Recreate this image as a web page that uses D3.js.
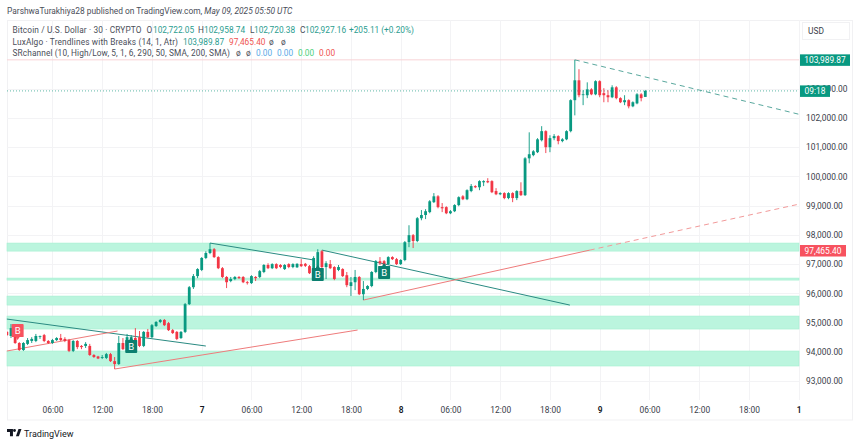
<!DOCTYPE html>
<html>
<head>
<meta charset="utf-8">
<title>BTCUSD 30m</title>
<script src="https://cdn.jsdelivr.net/npm/d3@7/dist/d3.min.js"></script>
<style>
  html, body { margin: 0; padding: 0; background: #fff; }
  svg { display: block; }
  text { font-family: Roboto, 'Open Sans', sans-serif; }
</style>
</head>
<body>
<svg id="chart" width="860" height="445"></svg>
<script>
// candles as [open, high, low, close], bar 1 is the first half hour of May 6
const candlesMay6 = [
  [94680,94710,94540,94570],[94540,94950,94470,94810],[94780,94850,94270,94300],[94300,94330,94030,94060],
  [94060,94330,94030,94300],[94270,94470,94230,94400],[94370,94500,94300,94440],[94370,94610,94330,94540],
  [94520,94555,94440,94540],[94570,94610,94330,94370],[94370,94400,94270,94300],[94300,94440,94270,94400],
  [94400,94500,94370,94470],[94470,94610,94370,94400],[94440,94500,94330,94370],[94400,94440,93990,94030],
  [94030,94400,93990,94370],[94370,94400,94090,94160],[94200,94230,94090,94160],[94200,94330,94130,94270],
  [94200,94270,93860,93890],[93890,93920,93790,93820],[93840,93860,93750,93770],[93790,93890,93750,93820],
  [93790,93960,93750,93920],[93920,93960,93650,93680],[93680,93820,93410,93580],[93580,94540,93550,94300],
  [94300,94470,94060,94090],[94200,94610,94160,94500],[94440,94570,94370,94500],[94470,94810,94230,94270],
  [94500,94710,94160,94200],[94200,94710,94160,94680],[94680,94780,94470,94500],[94500,94950,94470,94910],
  [94880,95050,94850,95020],[95020,95120,94980,95090],[95090,95120,94880,94910],[94980,95020,94710,94740],
  [94740,94780,94610,94640],[94680,94710,94400,94440],[94470,94710,94440,94680],[94680,95670,94640,95630],
  [95630,96250,95600,96210],[96210,96660,96150,96590],[96590,96860,96520,96830]
];
const candlesMay7 = [
  [96800,97240,96760,97210],[97210,97440,97170,97380],[97380,97720,97340,97510],[97510,97550,97210,97240],
  [97240,97270,96830,96860],[96860,96900,96520,96560],[96560,96590,96180,96380],[96420,96560,96380,96490],
  [96490,96590,96450,96560],[96560,96590,96490,96520],[96560,96590,96350,96380],[96380,96420,96300,96350],
  [96350,96620,96320,96590],[96560,96590,96420,96520],[96560,96800,96520,96760],[96730,97000,96690,96970],
  [96970,97030,96830,96860],[96860,97030,96830,97000],[97000,97030,96830,96860],[96970,97000,96860,96900],
  [96830,97000,96800,96970],[97000,97030,96860,96900],[96900,97030,96860,97000],[96890,97030,96870,97010],
  [97000,97170,96900,96930],[97010,97040,96900,96940],[96930,96970,96660,96690],[96730,97270,96690,97210],
  [96730,97510,96690,97410],[97440,97480,96860,96900],[96900,97100,96490,97030],[97000,97140,96830,96860],
  [96900,96930,96450,96490],[96800,96970,96760,96900],[96830,96860,96560,96590],[96620,96730,96210,96280],
  [96250,96560,95910,96380],[96380,96800,96110,96560],[96560,96590,95940,95970],[95970,96420,95770,96150],
  [96150,96280,96110,96250],[96250,96760,96210,96730],[96730,97140,96690,97100],[97100,97240,96970,97030],
  [97100,97140,96930,96970],[97000,97270,96970,97240],[97240,97270,97140,97170],[97170,97210,96970,97000]
];
const candlesMay8 = [
  [97000,97170,96970,97140],[97140,97790,97100,97750],[97750,98330,97580,97990],[97990,98030,97550,97790],
  [97790,98610,97750,98570],[98570,98850,98500,98680],[98680,98880,98540,98810],[98780,99190,98740,99150],
  [99120,99430,99090,99320],[99320,99360,98910,98950],[98950,99090,98780,98910],[98950,98980,98710,98740],
  [98740,98850,98710,98810],[98810,99050,98780,99020],[99020,99320,98980,99290],[99320,99360,99190,99220],
  [99220,99560,99190,99530],[99500,99740,99460,99670],[99670,99700,99600,99630],[99630,99870,99530,99840],
  [99800,99870,99670,99840],[99840,99940,99770,99800],[99840,99870,99430,99460],[99500,99600,99360,99390],
  [99390,99460,99360,99430],[99430,99460,99220,99260],[99260,99460,99220,99430],[99430,99460,99120,99260],
  [99260,99530,99190,99500],[99500,99800,99330,99360],[99360,100660,99330,100620],[100620,101510,100450,100760],
  [100730,100900,100690,100860],[100830,101310,100800,101270],[101240,101720,101200,101550],[101550,101580,100800,101000],
  [101000,101410,100830,101310],[101310,101450,101240,101380],[101380,101410,101100,101210],[101210,101310,101170,101270],
  [101270,101580,101240,101550],[101550,102640,101510,102610],[102610,103990,102090,103290],[103290,103670,102710,102780],
  [102790,102950,102440,102810],[102780,103220,102680,102980],[102980,103020,102780,102810],[102810,103290,102780,103260]
];
const candlesMay9 = [
  [103260,103290,102710,102780],[102850,103020,102540,102780],[102780,102950,102540,102710],[102710,103120,102680,103050],
  [103050,103090,102640,102680],[102680,102710,102510,102540],[102540,102780,102440,102610],[102610,102640,102330,102400],
  [102400,102570,102370,102540],[102500,102850,102470,102810],[102810,102850,102570,102680],[102722.05,102958.74,102720.38,102927.16]
];

// support / resistance zones, [upper price, lower price]
const srZones = [[97720,97445],[96522,96453],[95906,95598],[95222,94778],[94026,93513]];

// trendlines as [bar, price, bar, price]
const tealLines = [[1,95120,49,94197],[50,97720,75.2,97137],[77,97480,136.8,95598]];
const tealDashed = [[138,103990,192,102130]];
const redLines = [[1,94026,27.7,94710],[27,93410,85.6,94744],[87,95770,141.6,97479]];
const redDashed = [[141.6,97479,192,99050]];

// break labels as [bar, price]
const sellBreaks = [[3.6,94680]];
const buyBreaks = [[31,94265],[76,96730],[92,96795]];

const priceTicks = [93000,94000,95000,96000,97000,98000,99000,100000,101000,102000,103000];
const timeTickBars = [12,24,36,48,60,72,84,96,108,120,132,144,156,168,180,192];
const timeTickLabels = ['06:00','12:00','18:00','7','06:00','12:00','18:00','8','06:00','12:00','18:00','9','06:00','12:00','18:00','1'];
const dayLabels = ['7','8','9','1'];

const lastPrice = 102927.16;
const upperLevel = 103989.87;
const lowerLevel = 97465.40;

const GREEN = '#089981';
const RED = '#f23645';
const plot = { left: 7, right: 799, top: 20, bottom: 400 };

const svg = d3.select('#chart');

// y: 93,000 sits at 381px and 102,000 at 118px
const y = d3.scaleLinear().domain([93000, 102000]).range([381, 118]);
// x: one bar every 4.146px
const x = d3.scaleLinear().domain([0, 192]).range([2.7, 798.7]);

svg.append('defs').append('clipPath').attr('id', 'plotClip')
  .append('rect')
  .attr('x', plot.left).attr('y', plot.top)
  .attr('width', plot.right - plot.left).attr('height', plot.bottom - plot.top);

/* ---- Frame ---- */
svg.append('rect')
  .attr('x', 7.5).attr('y', 20.5).attr('width', 845).attr('height', 399.5)
  .attr('fill', 'none').attr('stroke', '#f1f1f3');

/* ---- Grid ---- */
svg.append('g').selectAll('line').data(priceTicks).join('line')
  .attr('x1', plot.left).attr('x2', plot.right)
  .attr('y1', d => Math.round(y(d)) + 0.5).attr('y2', d => Math.round(y(d)) + 0.5)
  .attr('stroke', '#f3f3f5');
svg.append('g').selectAll('line').data(timeTickBars).join('line')
  .attr('x1', d => Math.round(x(d)) + 0.5).attr('x2', d => Math.round(x(d)) + 0.5)
  .attr('y1', plot.top).attr('y2', plot.bottom)
  .attr('stroke', '#f3f3f5');

/* ---- Zones ---- */
svg.append('g').selectAll('rect').data(srZones).join('rect')
  .attr('x', plot.left).attr('width', plot.right - plot.left)
  .attr('y', d => y(d[0]))
  .attr('height', d => y(d[1]) - y(d[0]))
  .attr('fill', '#bbf5de')
  .attr('stroke', '#a4efd0')
  .attr('stroke-width', 0.6);

/* ---- Level lines ---- */
svg.append('line')
  .attr('x1', plot.left).attr('x2', plot.right)
  .attr('y1', y(upperLevel)).attr('y2', y(upperLevel))
  .attr('stroke', '#f8d3d6');
svg.append('line')
  .attr('x1', plot.left).attr('x2', plot.right)
  .attr('y1', y(lastPrice)).attr('y2', y(lastPrice))
  .attr('stroke', '#5fb8a8').attr('stroke-dasharray', '1 2');

/* ---- Trendlines ---- */
function drawLines(data, color, dash) {
  svg.append('g').selectAll('line').data(data).join('line')
    .attr('x1', d => x(d[0])).attr('y1', d => y(d[1]))
    .attr('x2', d => x(d[2])).attr('y2', d => y(d[3]))
    .attr('stroke', color)
    .attr('stroke-width', 1)
    .attr('stroke-dasharray', dash);
}
drawLines(tealLines, '#2a8a82', null);
drawLines(tealDashed, '#5aa89e', '5 4');
drawLines(redLines, '#ee7b7b', null);
drawLines(redDashed, '#f29a9a', '5 4');

/* ---- Candles ---- */
const candles = [...candlesMay6, ...candlesMay7, ...candlesMay8, ...candlesMay9]
  .map((d, i) => ({ bar: i + 1, open: d[0], high: d[1], low: d[2], close: d[3] }));

const candleG = svg.append('g').attr('clip-path', 'url(#plotClip)')
  .selectAll('g').data(candles).join('g')
  .attr('fill', d => d.close >= d.open ? GREEN : RED)
  .attr('stroke', d => d.close >= d.open ? GREEN : RED);

candleG.append('line')
  .attr('x1', d => x(d.bar)).attr('x2', d => x(d.bar))
  .attr('y1', d => y(d.high)).attr('y2', d => y(d.low))
  .attr('stroke-width', 0.9);

candleG.append('rect')
  .attr('x', d => x(d.bar) - 1.4)
  .attr('width', 2.8)
  .attr('y', d => y(Math.max(d.open, d.close)))
  .attr('height', d => Math.max(0.8, Math.abs(y(d.open) - y(d.close))))
  .attr('stroke', 'none');

/* ---- Break badges ---- */
function drawBadges(data, color, up) {
  const g = svg.append('g').selectAll('g').data(data).join('g')
    .attr('transform', d => `translate(${x(d[0])},${y(d[1])})`);
  g.append('path')
    .attr('d', up
      ? 'M-5.5,-4 L-2,-4 L0,-7 L2,-4 L5.5,-4 Q6,-4 6,-3.5 L6,8 Q6,9 5,9 L-5,9 Q-6,9 -6,8 L-6,-3.5 Q-6,-4 -5.5,-4 Z'
      : 'M-5,-8 L5,-8 Q6,-8 6,-7 L6,4.5 Q6,5 5.5,5 L2,5 L0,8 L-2,5 L-5.5,5 Q-6,5 -6,4.5 L-6,-7 Q-6,-8 -5,-8 Z')
    .attr('fill', color);
  g.append('text')
    .attr('text-anchor', 'middle')
    .attr('y', up ? 6 : 2)
    .attr('font-size', 9.5)
    .attr('fill', '#fff')
    .text('B');
}
drawBadges(sellBreaks, '#f7525f', false);
drawBadges(buyBreaks, '#0b7f70', true);

/* ---- Axes ---- */
const yAxis = svg.append('g')
  .attr('transform', 'translate(804,0)')
  .call(d3.axisRight(y).tickValues(priceTicks).tickSize(0).tickPadding(2)
    .tickFormat(d3.format(',.2f')));
yAxis.select('.domain').remove();
yAxis.selectAll('text').attr('font-size', 8.4).attr('fill', '#3a3e49')
  .style('font-family', 'Roboto, sans-serif');

const xAxis = svg.append('g')
  .attr('transform', 'translate(0,403)')
  .call(d3.axisBottom(x).tickValues(timeTickBars).tickSize(0).tickPadding(4)
    .tickFormat((d, i) => timeTickLabels[i]));
xAxis.select('.domain').remove();
xAxis.selectAll('text')
  .attr('font-size', 8.4)
  .attr('fill', (d, i) => dayLabels.includes(timeTickLabels[i]) ? '#131722' : '#3a3e49')
  .attr('font-weight', (d, i) => dayLabels.includes(timeTickLabels[i]) ? 600 : 400)
  .style('font-family', 'Roboto, sans-serif');

/* ---- Price tags ---- */
function priceTag(price, w, color, label) {
  svg.append('rect')
    .attr('x', 800).attr('y', y(price) - 5.5)
    .attr('width', w).attr('height', 11.5)
    .attr('fill', color);
  svg.append('text')
    .attr('x', 800 + w / 2).attr('y', y(price) + 3.2)
    .attr('text-anchor', 'middle')
    .attr('font-size', 8.4)
    .attr('fill', '#fff')
    .text(label);
}
priceTag(upperLevel, 50, GREEN, d3.format(',.2f')(upperLevel));
priceTag(lowerLevel, 46, '#f7525f', d3.format(',.2f')(lowerLevel));
priceTag(lastPrice, 30, GREEN, '09:18');

/* ---- USD box ---- */
svg.append('rect')
  .attr('x', 802.5).attr('y', 22.5).attr('width', 47).attr('height', 17)
  .attr('fill', '#fff').attr('stroke', '#f1f1f3');
svg.append('text')
  .attr('x', 808).attr('y', 33.5).attr('font-size', 8.4).attr('fill', '#3a3e49').text('USD');

/* ---- Header and legend ---- */
const title = svg.append('text').attr('x', 7).attr('y', 14).attr('font-size', 8.4).attr('fill', '#4a4e59');
title.append('tspan').text('ParshwaTurakhiya28 published on TradingView.com, ');
title.append('tspan').attr('font-style', 'italic').text('May 09, 2025 05:50 UTC');

const legendTeal = '#2a9d8f';
const legendRed = '#ef5350';
const legendBlue = '#5aa9e6';
const legendGreen = '#4cd07a';
const legendItems = [
  { x: 12.5, y: 33, w: 129, t: 'Bitcoin / U.S. Dollar · 30 · CRYPTO', c: '#4a4e59' },
  { x: 146.5, y: 33, t: 'O', c: '#4a4e59' }, { x: 153, y: 33, t: '102,722.05', c: legendTeal },
  { x: 198, y: 33, t: 'H', c: '#4a4e59' }, { x: 204, y: 33, t: '102,958.74', c: legendTeal },
  { x: 250, y: 33, t: 'L', c: '#4a4e59' }, { x: 254, y: 33, t: '102,720.38', c: legendTeal },
  { x: 300, y: 33, t: 'C', c: '#4a4e59' }, { x: 305, y: 33, t: '102,927.16', c: legendTeal },
  { x: 349, y: 33, t: '+205.11 (+0.20%)', c: legendTeal },
  { x: 12.5, y: 44.5, w: 165.5, t: 'LuxAlgo · Trendlines with Breaks (14, 1, Atr)', c: '#4a4e59' },
  { x: 183, y: 44.5, t: '103,989.87', c: legendTeal },
  { x: 229, y: 44.5, t: '97,465.40', c: legendRed },
  { x: 269, y: 44.5, t: 'ø', c: '#4a4e59' }, { x: 281, y: 44.5, t: 'ø', c: '#4a4e59' },
  { x: 12.5, y: 56, w: 217.5, t: 'SRchannel (10, High/Low, 5, 1, 6, 290, 50, SMA, 200, SMA)', c: '#4a4e59' },
  { x: 236, y: 56, t: 'ø', c: '#4a4e59' }, { x: 246, y: 56, t: 'ø', c: '#4a4e59' },
  { x: 256, y: 56, t: '0.00', c: legendBlue }, { x: 277, y: 56, t: '0.00', c: legendBlue },
  { x: 298, y: 56, t: '0.00', c: legendGreen }, { x: 319, y: 56, t: '0.00', c: legendRed }
];
svg.append('g').selectAll('text').data(legendItems).join('text')
  .attr('x', d => d.x).attr('y', d => d.y)
  .attr('font-size', 8.3)
  .attr('fill', d => d.c)
  .attr('textLength', d => d.w || null)
  .text(d => d.t);

/* ---- Footer logo ---- */
const logo = svg.append('g').attr('transform', 'translate(7,429) scale(0.85)').attr('fill', '#131722');
logo.append('path').attr('d', 'M0,0 H7 V8.5 H3.5 V3.5 H0 Z');
logo.append('circle').attr('cx', 8.8).attr('cy', 1.8).attr('r', 1.7);
logo.append('path').attr('d', 'M10.5,8.5 L13.5,0 H17 L14,8.5 Z');
svg.append('text')
  .attr('x', 24).attr('y', 437)
  .attr('font-size', 9).attr('fill', '#131722')
  .text('TradingView');
</script>
</body>
</html>
